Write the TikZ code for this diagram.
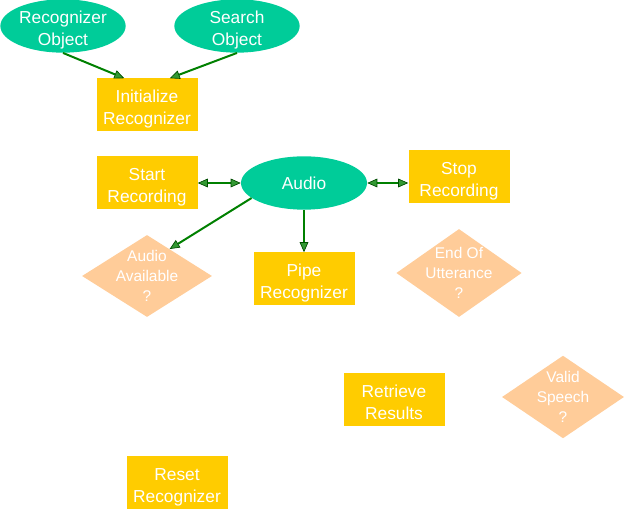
\documentclass[tikz,border=0pt]{standalone}
\usepackage{fontspec}
\setmainfont{Liberation Sans}
\usetikzlibrary{positioning,shapes.geometric,arrows.meta}
\definecolor{objgreen}{RGB}{0,204,153}
\definecolor{taskgold}{RGB}{255,204,0}
\definecolor{querypeach}{RGB}{255,204,153}
\definecolor{linkgreen}{RGB}{0,128,0}
% lines of text that do not size the shape round them
\newcommand{\stacked}[2][-6pt]{\makebox[0pt]{\smash{\raisebox{#1}{\begin{tabular}{@{}c@{}}#2\end{tabular}}}}}

\begin{document}
\begin{tikzpicture}[x=0.75pt,y=-0.75pt,on grid,
    obj/.style={ellipse,fill=objgreen,text=white,inner sep=0pt,
      minimum width=94pt,minimum height=40pt,font=\fontsize{13}{16.5}\selectfont},
    task/.style={rectangle,fill=taskgold,text=white,inner sep=0pt,
      minimum width=75.75pt,minimum height=39.75pt,font=\fontsize{13}{16.5}\selectfont},
    query/.style={diamond,fill=querypeach,text=white,inner sep=0pt,
      minimum width=95pt,minimum height=64pt,font=\fontsize{11.6}{15}\selectfont},
    tip/.tip={Triangle[length=7.5pt,width=6.5pt,fill=linkgreen!80!white,color=linkgreen!60!black,line width=0.5pt]},
    link/.style={draw=linkgreen,line width=1.5pt,-tip},
    both/.style={link,tip-tip}]
    \useasboundingbox (0,0) rectangle (633,516);

    \node[task] (init) at (147,105) {\stacked{Initialize\\Recognizer}};
    \node[obj]  (recog)  [above left=59.25pt and 63pt of init]   {\stacked{Recognizer\\Object}};
    \node[obj]  (search) [above right=59.25pt and 67.5pt of init] {\stacked{Search\\Object}};
    \node[task] (start)  [below=58.5pt of init]     {\stacked{Start\\Recording}};
    \node[obj,minimum width=94.5pt] (audio) [right=117.75pt of start] {Audio};
    \node[task] (stop)   [above right=4.5pt and 116.25pt of audio] {\stacked{Stop\\Recording}};
    \node[query,minimum width=97.5pt,minimum height=61.5pt] (avail) [below=69.75pt of start] {\stacked[-4pt]{Audio\\Available\\?}};
    \node[task] (pipe)   [below=72pt of audio]      {\stacked{Pipe\\Recognizer}};
    \node[query,minimum width=94pt,minimum height=66pt] (eou) [below=72pt of stop] {\stacked[-4pt]{End Of\\Utterance\\?}};
    \node[task] (retrieve) [below right=90.75pt and 67.5pt of pipe] {\stacked{Retrieve\\Results}};
    \node[query,minimum width=91.5pt,minimum height=62pt] (valid) [above right=2.25pt and 126.75pt of retrieve] {\stacked[-4pt]{Valid\\Speech\\?}};
    \node[task] (reset)  [below right=155.25pt and 22.5pt of avail] {\stacked{Reset\\Recognizer}};

    \path
    (recog.south)  edge[link] ([xshift=21pt]init.north west)
    (search.south) edge[link] ([xshift=-21pt]init.north east)
    (audio.196)    edge[link] (avail.50)
    (audio.south)  edge[link] (audio.south |- pipe.north)
    (start.east)   edge[both] (audio.west)
    (audio.east)   edge[both] (audio.east -| stop.west);

\end{tikzpicture}
\end{document}
